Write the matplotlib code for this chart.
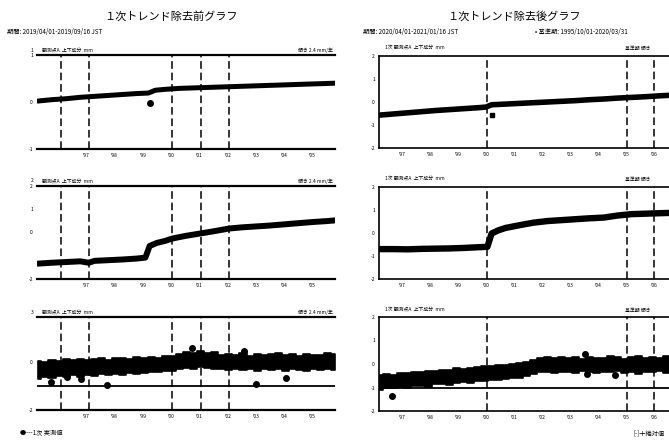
import matplotlib
matplotlib.use("Agg")
import matplotlib.pyplot as plt

plt.rcParams["font.family"] = ["Noto Sans CJK JP", "DejaVu Sans"]

W, H = 669, 442

# ---- left column (before detrending) ----
l1_x = [1995.3, 1995.8, 1996.3, 1996.8, 1997.3, 1997.8, 1998.3, 1998.8, 1999.2, 1999.45,
        1999.8, 2000.3, 2000.8, 2001.3, 2001.8, 2002.3, 2002.8, 2003.3, 2003.8, 2004.3,
        2004.8, 2005.3, 2005.8]
l1_y = [0.02, 0.05, 0.07, 0.10, 0.12, 0.14, 0.16, 0.18, 0.19, 0.25,
        0.27, 0.29, 0.30, 0.31, 0.32, 0.33, 0.34, 0.35, 0.36, 0.37,
        0.38, 0.39, 0.40]
l1_out = ([1999.26], [-0.03])

l2_x = [1995.3, 1995.8, 1996.3, 1996.8, 1997.1, 1997.3, 1997.8, 1998.3, 1998.8, 1999.1,
        1999.25, 1999.5, 1999.8, 2000.05, 2000.5, 2001.05, 2001.5, 2002.05, 2002.5, 2003.0,
        2003.5, 2004.0, 2004.5, 2005.0, 2005.5, 2005.8]
l2_y = [-1.34, -1.30, -1.27, -1.24, -1.30, -1.22, -1.19, -1.16, -1.12, -1.08,
        -0.58, -0.45, -0.36, -0.26, -0.15, -0.04, 0.05, 0.17, 0.22, 0.26,
        0.30, 0.35, 0.40, 0.45, 0.49, 0.52]

l3_x = [1995.3, 1995.55, 1995.8, 1996.05, 1996.3, 1996.55, 1996.8, 1997.05, 1997.3, 1997.55,
        1997.8, 1998.05, 1998.3, 1998.55, 1998.8, 1999.05, 1999.3, 1999.55, 1999.8, 2000.05,
        2000.3, 2000.55, 2000.8, 2001.05, 2001.3, 2001.55, 2001.8, 2002.05, 2002.3, 2002.55,
        2002.8, 2003.05, 2003.3, 2003.55, 2003.8, 2004.05, 2004.3, 2004.55, 2004.8, 2005.05,
        2005.3, 2005.55, 2005.8]
l3_hi = [0.05, 0.02, 0.10, 0.04, 0.12, 0.08, 0.15, 0.10, 0.12, 0.18,
         0.10, 0.16, 0.20, 0.14, 0.22, 0.18, 0.24, 0.20, 0.28, 0.25,
         0.36, 0.42, 0.40, 0.48, 0.38, 0.44, 0.32, 0.36, 0.30, 0.38,
         0.28, 0.34, 0.30, 0.36, 0.40, 0.30, 0.35, 0.28, 0.36, 0.32,
         0.30, 0.38, 0.34]
l3_lo = [-0.72, -0.62, -0.66, -0.58, -0.62, -0.55, -0.60, -0.52, -0.58, -0.50,
         -0.55, -0.48, -0.52, -0.46, -0.50, -0.44, -0.42, -0.40, -0.38, -0.36,
         -0.28, -0.22, -0.26, -0.18, -0.24, -0.30, -0.26, -0.32, -0.28, -0.34,
         -0.30, -0.36, -0.28, -0.32, -0.30, -0.38, -0.28, -0.32, -0.36, -0.30,
         -0.34, -0.28, -0.32]
l3_out = ([2000.75, 2002.58, 2003.0, 1997.74, 1996.82, 1996.33, 1995.76, 2004.07],
          [0.62, 0.46, -0.92, -0.96, -0.70, -0.63, -0.83, -0.67])

left_vlines = [1996.12, 1997.1, 2000.04, 2001.06, 2002.05]
left_xticks = [1997, 1998, 1999, 2000, 2001, 2002, 2003, 2004, 2005]

# ---- right column (after detrending) ----
r1_x = [1996.2, 1996.7, 1997.2, 1997.7, 1998.2, 1998.7, 1999.2, 1999.7, 2000.0, 2000.2,
        2000.7, 2001.2, 2001.7, 2002.2, 2002.7, 2003.2, 2003.7, 2004.2, 2004.7, 2005.2,
        2005.7, 2006.2, 2006.7, 2007.2, 2007.7]
r1_y = [-0.57, -0.52, -0.47, -0.42, -0.37, -0.33, -0.29, -0.25, -0.22, -0.12,
        -0.09, -0.06, -0.03, 0.00, 0.03, 0.06, 0.10, 0.13, 0.17, 0.20,
        0.23, 0.27, 0.30, 0.32, 0.35]
r1_out = ([2000.2], [-0.57])

r2_x = [1996.2, 1996.7, 1997.2, 1997.7, 1998.2, 1998.7, 1999.2, 1999.7, 2000.05, 2000.2,
        2000.45, 2000.7, 2001.2, 2001.7, 2002.2, 2002.7, 2003.2, 2003.7, 2004.2, 2004.7,
        2005.2, 2005.7, 2006.2, 2006.7, 2007.2, 2007.7]
r2_y = [-0.70, -0.70, -0.71, -0.69, -0.68, -0.67, -0.65, -0.62, -0.60, -0.02,
        0.12, 0.22, 0.34, 0.45, 0.52, 0.56, 0.60, 0.64, 0.67, 0.76,
        0.82, 0.84, 0.86, 0.88, 0.90, 0.92]

r3_x = [1996.2, 1996.45, 1996.7, 1996.95, 1997.2, 1997.45, 1997.7, 1997.95, 1998.2, 1998.45,
        1998.7, 1998.95, 1999.2, 1999.45, 1999.7, 1999.95, 2000.2, 2000.45, 2000.7, 2000.95,
        2001.2, 2001.45, 2001.7, 2001.95, 2002.2, 2002.45, 2002.7, 2002.95, 2003.2, 2003.45,
        2003.7, 2003.95, 2004.2, 2004.45, 2004.7, 2004.95, 2005.2, 2005.45, 2005.7, 2005.95,
        2006.2, 2006.45, 2006.7, 2006.95, 2007.2, 2007.45]
r3_hi = [-0.48, -0.42, -0.46, -0.38, -0.40, -0.34, -0.36, -0.30, -0.28, -0.24,
         -0.26, -0.18, -0.20, -0.16, -0.14, -0.08, -0.10, -0.04, -0.06, 0.02,
         0.04, 0.10, 0.16, 0.26, 0.28, 0.24, 0.30, 0.26, 0.28, 0.22,
         0.30, 0.26, 0.24, 0.32, 0.28, 0.22, 0.30, 0.34, 0.26, 0.30,
         0.24, 0.32, 0.28, 0.30, 0.26, 0.30]
r3_lo = [-1.10, -1.02, -1.04, -0.98, -1.00, -0.94, -0.92, -0.96, -0.86, -0.84,
         -0.88, -0.80, -0.78, -0.82, -0.74, -0.72, -0.70, -0.66, -0.62, -0.60,
         -0.58, -0.50, -0.44, -0.36, -0.34, -0.40, -0.32, -0.36, -0.38, -0.30,
         -0.34, -0.40, -0.32, -0.36, -0.30, -0.38, -0.34, -0.42, -0.32, -0.36,
         -0.30, -0.38, -0.34, -0.36, -0.32, -0.34]
r3_out = ([1996.64, 2003.54, 2003.61, 2004.61], [-1.36, 0.43, -0.43, -0.47])

right_vlines = [2000.04, 2005.04, 2006.0]
right_xticks = [1997, 1998, 1999, 2000, 2001, 2002, 2003, 2004, 2005, 2006]

fig = plt.figure(figsize=(W / 100, H / 100), dpi=100)


def ax_px(left, top, right, bottom):
    return fig.add_axes([left / W, 1 - bottom / H, (right - left) / W, (bottom - top) / H])


def ftext(x, y, s, **kw):
    fig.text(x / W, 1 - y / H, s, **kw)


def setup(ax, xlim, ylim, yticks, xticks, vlines, boxed):
    ax.set_xlim(*xlim)
    ax.set_ylim(*ylim)
    for v in vlines:
        ax.axvline(v, color="black", lw=1.1, linestyle=(0, (5, 2.5)), zorder=1)
    ax.set_xticks(xticks)
    ax.set_xticklabels([f"'{t % 100:02d}" for t in xticks], fontsize=3.5)
    ax.set_yticks(yticks)
    ax.set_yticklabels([f"{t:g}" for t in yticks], fontsize=3.5)
    ax.tick_params(length=0, pad=3)
    if boxed:
        for s in ax.spines.values():
            s.set_linewidth(1.2)
    else:
        ax.spines["left"].set_visible(False)
        ax.spines["right"].set_visible(False)
        ax.spines["top"].set_linewidth(1.6)
        ax.spines["bottom"].set_linewidth(1.6)


lxlim = (1995.27, 2005.8)
rxlim = (1996.18, 2007.64)

# left panels
a = ax_px(37, 55, 335, 149)
setup(a, lxlim, (-1, 1), [-1, 0, 1], left_xticks, left_vlines, False)
a.plot(l1_x, l1_y, color="black", lw=3.6, solid_capstyle="round", zorder=3)
a.plot(*l1_out, "o", color="black", ms=4, zorder=3)

a = ax_px(37, 186, 335, 279)
setup(a, lxlim, (-2, 2), [-2, 0, 1, 2], left_xticks, left_vlines, False)
a.plot(l2_x, l2_y, color="black", lw=4.3, solid_capstyle="round", zorder=3)

a = ax_px(37, 317, 335, 410)
setup(a, lxlim, (-2, 1.9), [-2, 0], left_xticks, left_vlines, False)
a.axhline(-1, color="black", lw=1.3, zorder=2)
a.fill_between(l3_x, l3_lo, l3_hi, step="mid", color="black", lw=1.2, edgecolor="black", zorder=3)
a.plot(*l3_out, "o", color="black", ms=4, zorder=3)

# right panels
a = ax_px(379, 56, 700, 148)
setup(a, rxlim, (-2, 2), [-2, -1, 0, 1, 2], right_xticks, right_vlines, True)
a.plot(r1_x, r1_y, color="black", lw=4, solid_capstyle="round", zorder=3)
a.plot(*r1_out, "s", color="black", ms=3.5, zorder=3)

a = ax_px(379, 187, 700, 279)
setup(a, rxlim, (-2, 2), [-2, -1, 0, 1, 2], right_xticks, right_vlines, True)
a.plot(r2_x, r2_y, color="black", lw=4.6, solid_capstyle="round", zorder=3)

a = ax_px(379, 317, 700, 411)
setup(a, rxlim, (-2, 2), [-2, -1, 0, 1, 2], right_xticks, right_vlines, True)
a.axhline(-1, color="black", lw=1.3, zorder=2)
a.fill_between(r3_x, r3_lo, r3_hi, step="mid", color="black", lw=1.2, edgecolor="black", zorder=3)
a.plot(*r3_out, "o", color="black", ms=4, zorder=3)

# titles and header texts
ftext(171, 16, "１次トレンド除去前グラフ", fontsize=8, ha="center", va="center")
ftext(514, 16, "１次トレンド除去後グラフ", fontsize=8, ha="center", va="center")
ftext(7, 32, "期間: 2019/04/01-2019/09/16 JST", fontsize=4.5, va="center")
ftext(363, 32, "期間: 2020/04/01-2021/01/16 JST", fontsize=4.5, va="center")
ftext(535, 32, "• 基準期: 1995/10/01-2020/03/31", fontsize=4.5, va="center")

for i, y in enumerate([50, 181, 312]):
    ftext(31, y, str(i + 1), fontsize=3.5, va="center")
    ftext(42, y, "観測点A  上下成分  mm", fontsize=3.5, va="center")
    ftext(333, y, "傾き 2.4 mm/年", fontsize=3.5, va="center", ha="right")
    ftext(385, y - 2, "1次 観測点A  上下成分  mm", fontsize=3.5, va="center")
    ftext(625, y - 2, "基準期 傾き", fontsize=3.5, va="center")

ftext(20, 433, "●---1次 実測値", fontsize=4.5, va="center")
ftext(633, 433, "[-]十絶対値", fontsize=4.5, va="center")

fig.savefig("out.png", dpi=100)
